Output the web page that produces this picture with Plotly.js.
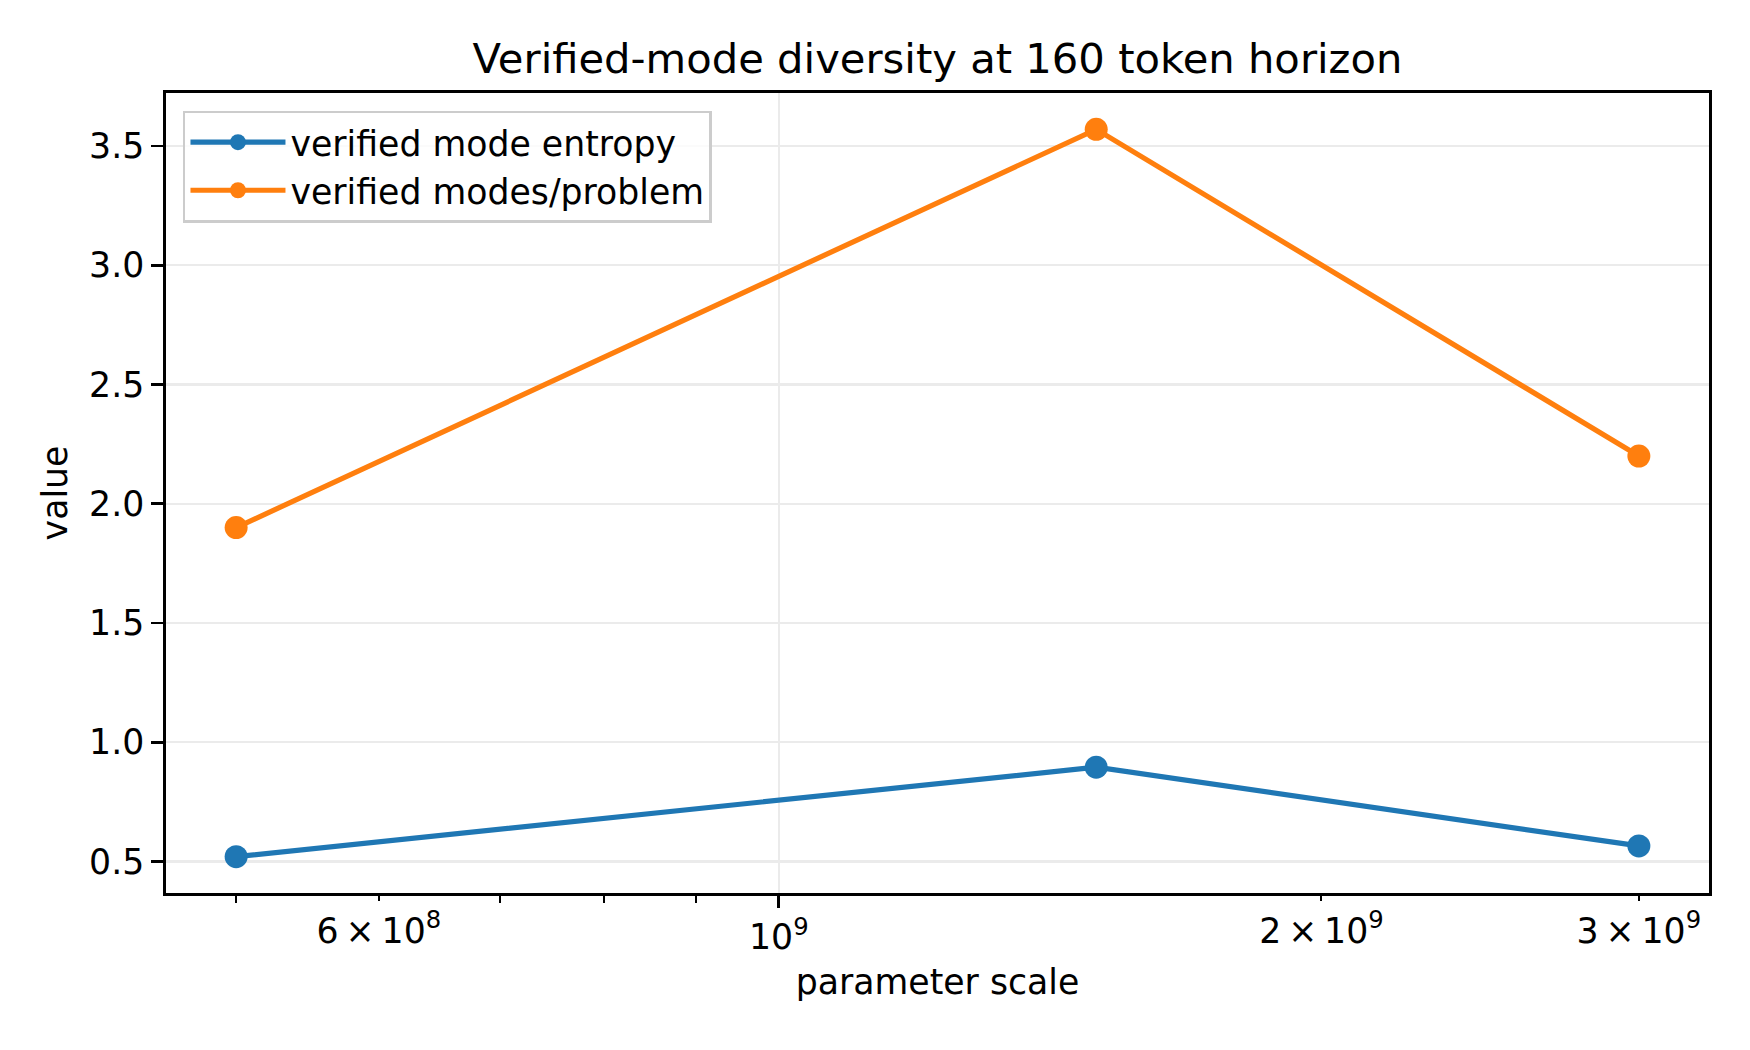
<!DOCTYPE html>
<html>
<head>
<meta charset="utf-8">
<script src="https://cdn.plot.ly/plotly-3.0.1.min.js"></script>
<style>
  html, body { margin: 0; padding: 0; background: #ffffff; }
  #chart { width: 1750px; height: 1050px; }
</style>
</head>
<body>
<div id="chart"></div>
<script>
// Model sizes (parameters) and the two diversity measures at the 160-token horizon
const paramScale = [5e8, 1.5e9, 3e9];
const modeEntropy = [0.52, 0.895, 0.565];
const modesPerProblem = [1.9, 3.57, 2.2];
const seriesNames = ['verified mode entropy', 'verified modes/problem'];

// Tick positions and labels on the log x axis
const majorTickVals = [1e9];
const majorTickText = ['10<sup>9</sup>'];
const labeledMinorVals = [6e8, 2e9, 3e9];
const labeledMinorText = ['6\u2009\u00d7\u200910<sup>8</sup>', '2\u2009\u00d7\u200910<sup>9</sup>', '3\u2009\u00d7\u200910<sup>9</sup>'];
const plainMinorVals = [5e8, 7e8, 8e8, 9e8];
const yTickVals = [0.5, 1.0, 1.5, 2.0, 2.5, 3.0, 3.5];
const yTickText = ['0.5', '1.0', '1.5', '2.0', '2.5', '3.0', '3.5'];

const FONT = 'DejaVu Sans, Verdana, sans-serif';
const TICK_PX = 34.7;
const INK = '#000000';
const GRID = '#ebebeb';

// 5% padding around the data, as in the usual autoscaled view
const lx = paramScale.map(Math.log10);
const lxMin = Math.min(...lx), lxMax = Math.max(...lx);
const lxPad = (lxMax - lxMin) * 0.05;
const xRange = [lxMin - lxPad, lxMax + lxPad];
const allY = modeEntropy.concat(modesPerProblem);
const yMin = Math.min(...allY), yMax = Math.max(...allY);
const yPad = (yMax - yMin) * 0.05;
const yRange = [yMin - yPad, yMax + yPad];

// The second series sits on an overlaid twin of the x axis (same log range),
// which carries the labelled sub-decade ticks.
const traces = [
  {
    x: paramScale, y: modeEntropy, name: seriesNames[0],
    type: 'scatter', mode: 'lines+markers', xaxis: 'x', yaxis: 'y',
    legendgroup: 'entropy',
    line: { color: '#1f77b4', width: 5.2 },
    marker: { color: '#1f77b4', size: 23 }
  },
  {
    x: paramScale, y: modesPerProblem, name: seriesNames[1],
    type: 'scatter', mode: 'lines+markers', xaxis: 'x2', yaxis: 'y',
    legendgroup: 'modes',
    line: { color: '#ff7f0e', width: 5.2 },
    marker: { color: '#ff7f0e', size: 23 }
  }
];

const layout = {
  width: 1750, height: 1050,
  paper_bgcolor: '#ffffff', plot_bgcolor: '#ffffff',
  font: { family: FONT, size: TICK_PX, color: INK },
  margin: { l: 166, r: 41, t: 93, b: 157, pad: 0 },
  title: {
    text: 'Verified-mode diversity at 160 token horizon',
    font: { family: FONT, size: 41.7, color: INK },
    x: 0.5, xanchor: 'center', xref: 'paper',
    y: 1 - 58 / 1050, yanchor: 'middle', yref: 'container'
  },
  showlegend: true,
  legend: {
    x: 0.011, y: 0.978, xanchor: 'left', yanchor: 'top',
    bgcolor: 'rgba(255,255,255,0.8)', bordercolor: '#cccccc', borderwidth: 2.5,
    font: { family: FONT, size: TICK_PX, color: INK },
    itemwidth: 95, tracegroupgap: 8, traceorder: 'normal'
  },
  xaxis: {
    type: 'log', range: xRange, autorange: false,
    showline: true, mirror: true, linecolor: INK, linewidth: 2.8,
    tickmode: 'array', tickvals: majorTickVals, ticktext: majorTickText,
    ticks: 'outside', ticklen: 12, tickwidth: 2.8, tickcolor: INK,
    tickfont: { family: FONT, size: TICK_PX, color: INK },
    showgrid: true, gridcolor: GRID, gridwidth: 2.2,
    minor: {
      tickmode: 'array', tickvals: plainMinorVals,
      ticks: 'outside', ticklen: 7, tickwidth: 2, tickcolor: INK,
      showgrid: false
    },
    zeroline: false,
    title: { text: 'parameter scale', font: { family: FONT, size: TICK_PX, color: INK }, standoff: 14 }
  },
  xaxis2: {
    type: 'log', range: xRange, autorange: false,
    overlaying: 'x', side: 'bottom', anchor: 'y',
    showline: false, showgrid: false, zeroline: false,
    tickmode: 'array', tickvals: labeledMinorVals, ticktext: labeledMinorText,
    ticks: 'outside', ticklen: 7, tickwidth: 2, tickcolor: INK,
    tickfont: { family: FONT, size: TICK_PX, color: INK }
  },
  yaxis: {
    range: yRange, autorange: false,
    showline: true, mirror: true, linecolor: INK, linewidth: 2.8,
    tickmode: 'array', tickvals: yTickVals, ticktext: yTickText,
    ticks: 'outside', ticklen: 12, tickwidth: 2.8, tickcolor: INK,
    tickfont: { family: FONT, size: TICK_PX, color: INK },
    showgrid: true, gridcolor: GRID, gridwidth: 2.2,
    zeroline: false,
    title: { text: 'value', font: { family: FONT, size: TICK_PX, color: INK }, standoff: 11 }
  }
};

Plotly.newPlot('chart', traces, layout, { displayModeBar: false, staticPlot: true });
</script>
</body>
</html>
